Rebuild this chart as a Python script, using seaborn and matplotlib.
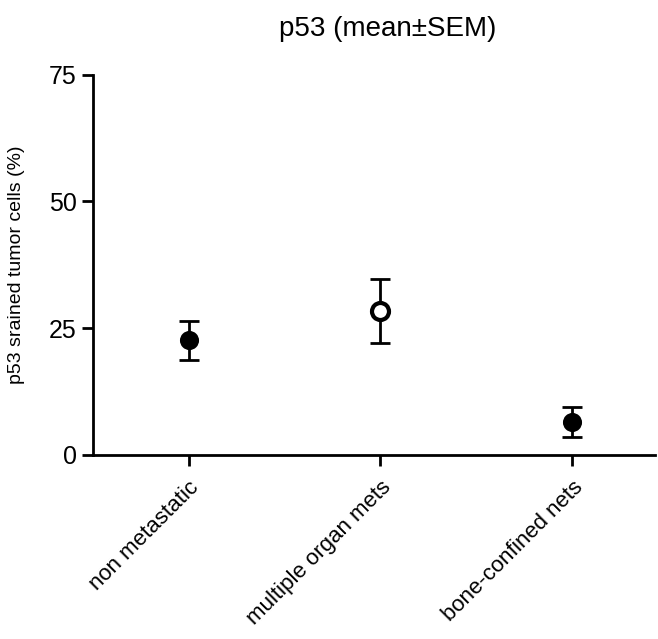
import numpy as np
import matplotlib
matplotlib.use('Agg')
import matplotlib.pyplot as plt
import seaborn as sns

# p53 staining per group
groups = ['non metastatic', 'multiple organ mets', 'bone-confined nets']
means = [22.6, 28.4, 6.5]
err_low = [3.8, 6.4, 2.9]
err_high = [3.8, 6.3, 3.0]
filled = [True, False, True]

sns.set_style('ticks')
plt.rcParams['font.family'] = ['Liberation Sans', 'DejaVu Sans']
plt.rcParams['text.color'] = 'black'

fig = plt.figure(figsize=(6.58, 6.39), dpi=100)
ax = fig.add_axes([0.141, 0.288, 0.854, 0.595])

# errorbars first, then markers
ax.errorbar(groups, means, yerr=[err_low, err_high], fmt='none',
            ecolor='black', elinewidth=2, capsize=7, capthick=2, zorder=2)
sns.scatterplot(x=[g for g, f in zip(groups, filled) if f],
                y=[m for m, f in zip(means, filled) if f],
                color='black', s=150, edgecolor='black', linewidth=1.5,
                ax=ax, zorder=3)
sns.scatterplot(x=[g for g, f in zip(groups, filled) if not f],
                y=[m for m, f in zip(means, filled) if not f],
                color='white', s=150, edgecolor='black', linewidth=3,
                ax=ax, zorder=3)

ax.set_xlim(-0.5, 2.43)
ax.set_ylim(0, 75)
ax.set_yticks([0, 25, 50, 75])
ax.tick_params(axis='both', direction='out', length=8, width=2, colors='black')
ax.tick_params(axis='y', labelsize=18)
ax.tick_params(axis='x', labelsize=16, pad=8)
plt.setp(ax.get_xticklabels(), rotation=45, ha='right', rotation_mode='anchor')

sns.despine(ax=ax)
for s in ['left', 'bottom']:
    ax.spines[s].set_linewidth(2)
    ax.spines[s].set_color('black')

ax.set_ylabel('p53 srained tumor cells (%)', fontsize=14, color='black')
ax.yaxis.set_label_coords(-0.12, 0.5)
ax.set_title('p53 (mean±SEM)', fontsize=20, pad=28, x=0.525, color='black')

fig.savefig('out.png', dpi=100)
